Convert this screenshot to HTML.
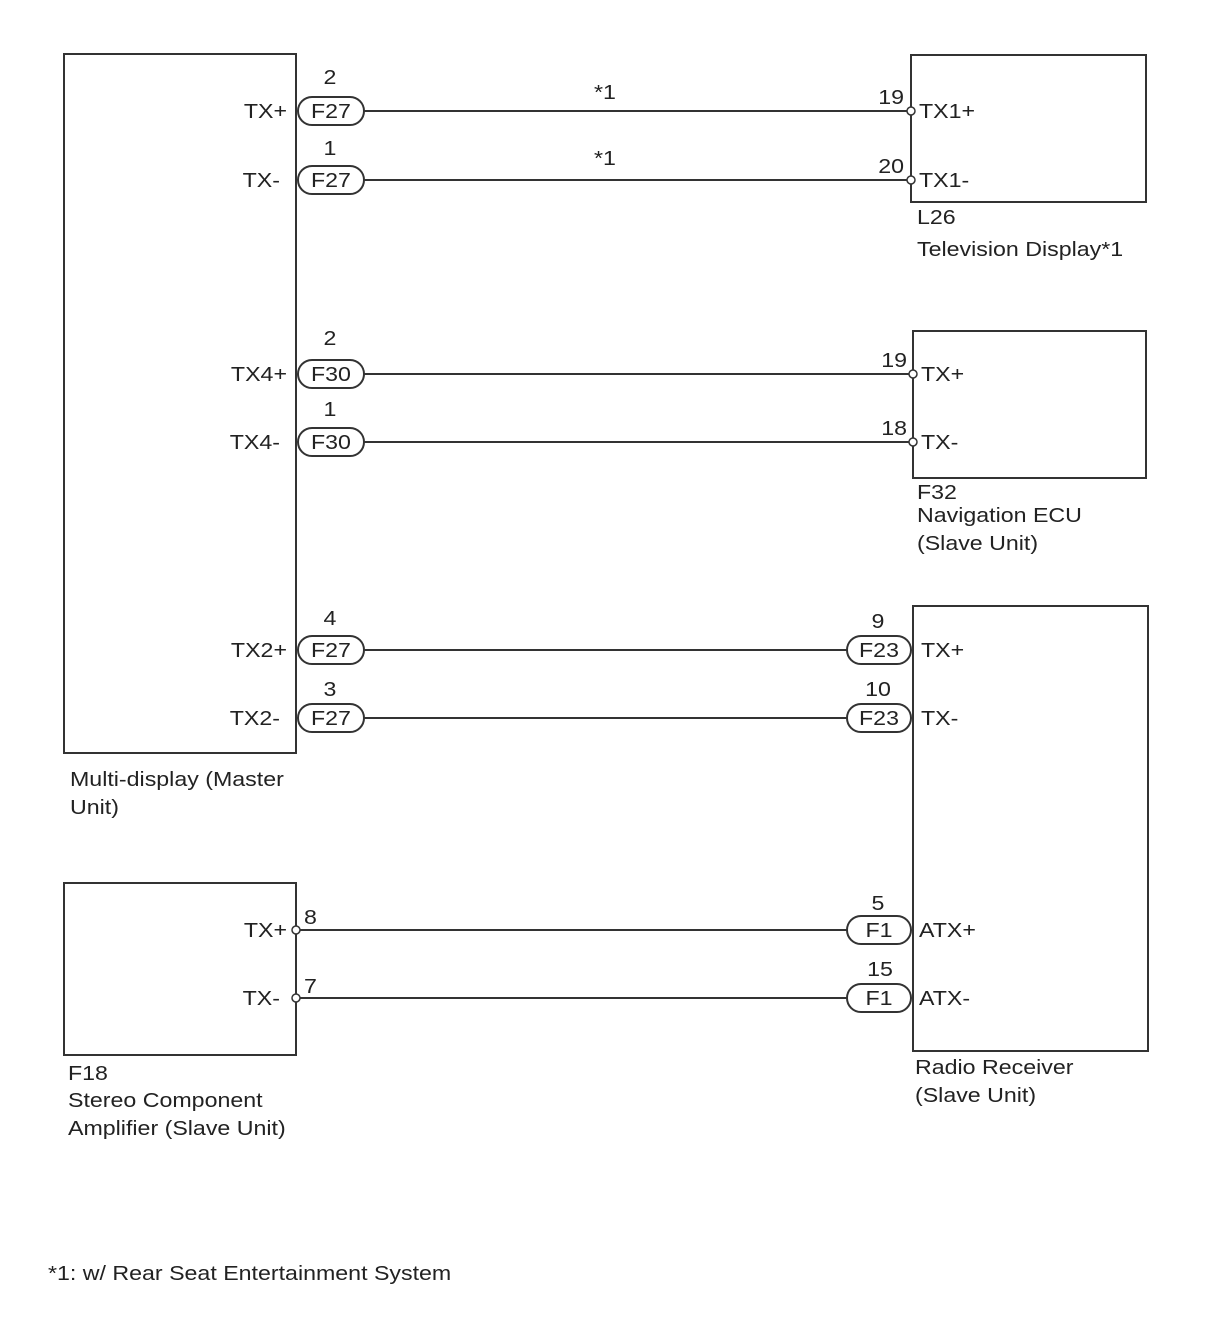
<!DOCTYPE html>
<html><head><style>body{margin:0;background:#fff}svg{display:block}
text{font-family:"Liberation Sans",Arial,sans-serif;font-size:20px;fill:#222;transform-box:fill-box;transform:scaleX(1.16);transform-origin:left center}
.m text{transform-origin:center center}
.e text{transform-origin:right center}
</style></head><body>
<svg width="1210" height="1328" viewBox="0 0 1210 1328" xmlns="http://www.w3.org/2000/svg">
<g fill="none" stroke="#333" stroke-width="2">
<rect x="64" y="54" width="232" height="699"/>
<rect x="911" y="55" width="235" height="147"/>
<rect x="913" y="331" width="233" height="147"/>
<rect x="913" y="606" width="235" height="445"/>
<rect x="64" y="883" width="232" height="172"/>
<line x1="364" y1="111" x2="907" y2="111"/>
<line x1="364" y1="180" x2="907" y2="180"/>
<line x1="364" y1="374" x2="909" y2="374"/>
<line x1="364" y1="442" x2="909" y2="442"/>
<line x1="364" y1="650" x2="847" y2="650"/>
<line x1="364" y1="718" x2="847" y2="718"/>
<line x1="300" y1="930" x2="847" y2="930"/>
<line x1="300" y1="998" x2="847" y2="998"/>
<rect x="298" y="97" width="66" height="28" rx="14"/>
<rect x="298" y="166" width="66" height="28" rx="14"/>
<rect x="298" y="360" width="66" height="28" rx="14"/>
<rect x="298" y="428" width="66" height="28" rx="14"/>
<rect x="298" y="636" width="66" height="28" rx="14"/>
<rect x="298" y="704" width="66" height="28" rx="14"/>
<rect x="847" y="636" width="64" height="28" rx="14"/>
<rect x="847" y="704" width="64" height="28" rx="14"/>
<rect x="847" y="916" width="64" height="28" rx="14"/>
<rect x="847" y="984" width="64" height="28" rx="14"/>
</g>
<g fill="#fff" stroke="#333" stroke-width="1.5">
<circle cx="911" cy="111" r="4"/><circle cx="911" cy="180" r="4"/>
<circle cx="913" cy="374" r="4"/><circle cx="913" cy="442" r="4"/>
<circle cx="296" cy="930" r="4"/><circle cx="296" cy="998" r="4"/>
</g>
<g text-anchor="middle" class="m">
<text x="331" y="118">F27</text><text x="331" y="187">F27</text>
<text x="331" y="381">F30</text><text x="331" y="449">F30</text>
<text x="331" y="657">F27</text><text x="331" y="725">F27</text>
<text x="879" y="657">F23</text><text x="879" y="725">F23</text>
<text x="879" y="937">F1</text><text x="879" y="1005">F1</text>
<text x="330" y="84">2</text><text x="330" y="155">1</text>
<text x="330" y="345">2</text><text x="330" y="416">1</text>
<text x="330" y="625">4</text><text x="330" y="696">3</text>
<text x="878" y="628">9</text><text x="878" y="696">10</text>
<text x="878" y="910">5</text><text x="880" y="976">15</text>
<text x="605" y="99">*1</text><text x="605" y="165">*1</text>
</g>
<g text-anchor="end" class="e">
<text x="287" y="118">TX+</text><text x="280" y="187">TX-</text>
<text x="287" y="381">TX4+</text><text x="280" y="449">TX4-</text>
<text x="287" y="657">TX2+</text><text x="280" y="725">TX2-</text>
<text x="287" y="937">TX+</text><text x="280" y="1005">TX-</text>
<text x="904" y="104">19</text><text x="904" y="173">20</text>
<text x="907" y="367">19</text><text x="907" y="435">18</text>
</g>
<text x="919" y="118">TX1+</text><text x="919" y="187">TX1-</text>
<text x="921" y="381">TX+</text><text x="921" y="449">TX-</text>
<text x="921" y="657">TX+</text><text x="921" y="725">TX-</text>
<text x="919" y="937">ATX+</text><text x="919" y="1005">ATX-</text>
<text x="304" y="924">8</text><text x="304" y="993">7</text>
<text x="917" y="224">L26</text><text x="917" y="256">Television Display*1</text>
<text x="917" y="499">F32</text><text x="917" y="522">Navigation ECU</text><text x="917" y="550">(Slave Unit)</text>
<text x="70" y="786">Multi-display (Master</text><text x="70" y="814">Unit)</text>
<text x="915" y="1074">Radio Receiver</text><text x="915" y="1102">(Slave Unit)</text>
<text x="68" y="1080">F18</text><text x="68" y="1107">Stereo Component</text><text x="68" y="1135">Amplifier (Slave Unit)</text>
<text x="48" y="1280">*1: w/ Rear Seat Entertainment System</text>
</svg>
</body></html>
